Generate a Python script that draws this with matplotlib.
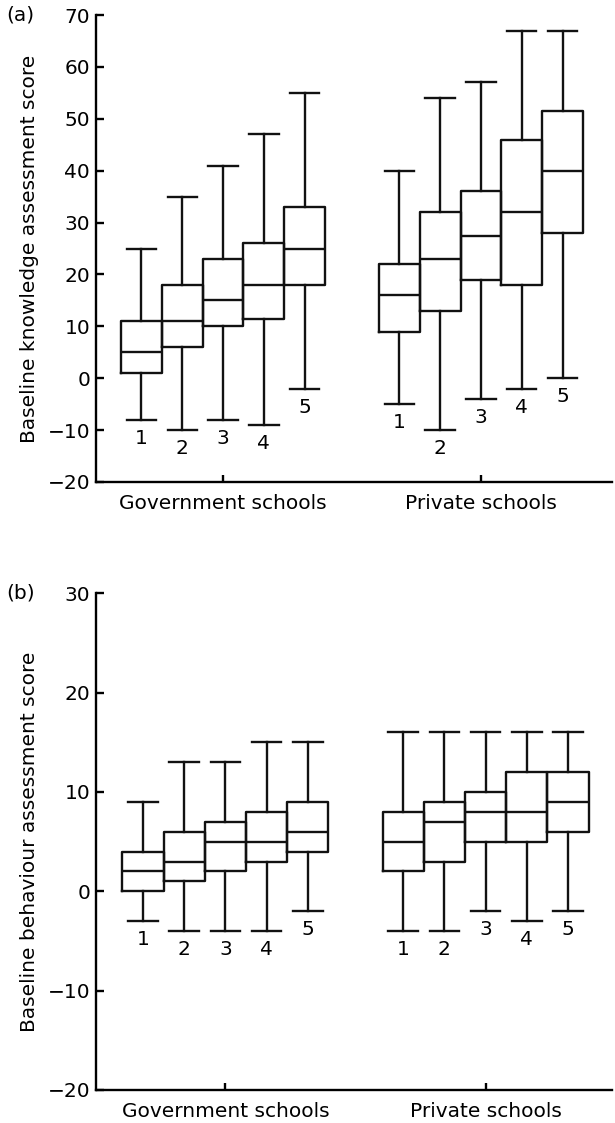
import matplotlib
matplotlib.use("Agg")
import matplotlib.pyplot as plt

plt.rcParams["font.family"] = ["DejaVu Sans"]
plt.rcParams["font.size"] = 14.5

groups = ["Government schools", "Private schools"]
box_labels = ["1", "2", "3", "4", "5"]

# panel (a): baseline knowledge score, gov boxes then private boxes
know_whislo = [-8, -10, -8, -9, -2, -5, -10, -4, -2, 0]
know_q1 = [1, 6, 10, 11.5, 18, 9, 13, 19, 18, 28]
know_med = [5, 11, 15, 18, 25, 16, 23, 27.5, 32, 40]
know_q3 = [11, 18, 23, 26, 33, 22, 32, 36, 46, 51.5]
know_whishi = [25, 35, 41, 47, 55, 40, 54, 57, 67, 67]

# panel (b): baseline behaviour score
beh_whislo = [-3, -4, -4, -4, -2, -4, -4, -2, -3, -2]
beh_q1 = [0, 1, 2, 3, 4, 2, 3, 5, 5, 6]
beh_med = [2, 3, 5, 5, 6, 5, 7, 8, 8, 9]
beh_q3 = [4, 6, 7, 8, 9, 8, 9, 10, 12, 12]
beh_whishi = [9, 13, 13, 15, 15, 16, 16, 16, 16, 16]

group_gap = 6.32
positions = [g * group_gap + k - 2 for g in range(2) for k in range(5)]


def draw_panel(ax, lo, q1, med, q3, hi, ylim, ylabel, tag, xlim):
    stats = []
    for i in range(len(med)):
        stats.append({"whislo": lo[i], "q1": q1[i], "med": med[i],
                      "q3": q3[i], "whishi": hi[i], "fliers": []})
    lw = 1.7
    ax.bxp(stats, positions=positions, widths=1.0, capwidths=0.72,
           showfliers=False, patch_artist=False,
           boxprops=dict(color="#111111", linewidth=lw),
           medianprops=dict(color="#111111", linewidth=lw),
           whiskerprops=dict(color="#111111", linewidth=lw),
           capprops=dict(color="#111111", linewidth=lw))
    for i, p in enumerate(positions):
        ax.annotate(box_labels[i % 5], xy=(p, lo[i]), xytext=(0, -13.5),
                    textcoords="offset points", ha="center", va="center")
    ax.set_xlim(*xlim)
    ax.set_ylim(*ylim)
    ax.set_yticks(range(ylim[0], ylim[1] + 1, 10))
    ax.set_xticks([0, group_gap])
    ax.set_xticklabels(groups)
    for s in ["top", "right"]:
        ax.spines[s].set_visible(False)
    for s in ["left", "bottom"]:
        ax.spines[s].set_linewidth(1.7)
    ax.tick_params(axis="y", direction="in", length=6, width=1.7, pad=4.5)
    ax.tick_params(axis="x", direction="in", length=5, width=1.7, pad=8.5)
    ax.set_ylabel(ylabel)
    ax.yaxis.set_label_coords(-0.112, 0.5)
    bb = ax.get_position()
    fig.text(0.010, bb.y1, tag, ha="left", va="center")


fig = plt.figure(figsize=(6.15, 11.23), dpi=100)
ax_a = fig.add_axes([0.1569, 0.5708, 0.8382, 0.4158])
ax_b = fig.add_axes([0.1569, 0.0294, 0.8382, 0.4423])

draw_panel(ax_a, know_whislo, know_q1, know_med, know_q3, know_whishi,
           (-20, 70), "Baseline knowledge assessment score", "(a)",
           (-3.10, 9.53))
draw_panel(ax_b, beh_whislo, beh_q1, beh_med, beh_q3, beh_whishi,
           (-20, 30), "Baseline behaviour assessment score", "(b)",
           (-3.13, 9.39))

fig.savefig("out.png", dpi=100)
